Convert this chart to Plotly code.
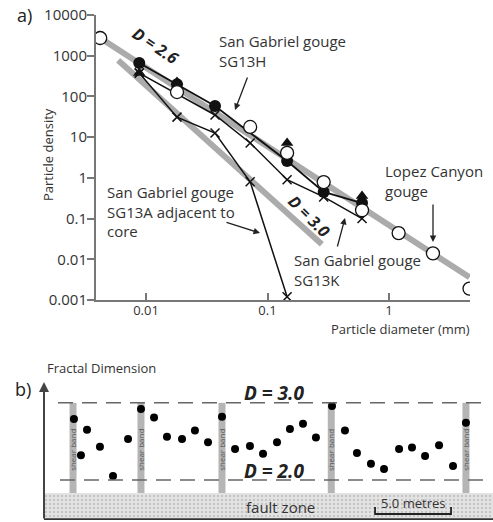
import plotly.graph_objects as go

W, H = 493, 522
FONT = "Open Sans"
TXT = "#333333"

# ---------------- Panel a data ----------------
lopez_x = [0.0042, 0.018, 0.072, 0.145, 0.29, 0.6, 1.2, 2.3, 4.6]
lopez_y = [2720, 128, 17.8, 4.1, 0.79, 0.16, 0.044, 0.014, 0.0019]
sg13h_x = [0.0088, 0.018, 0.037, 0.145, 0.29, 0.6]
sg13h_y = [660, 200, 58, 2.6, 0.45, 0.24]
tri_x = [0.0088, 0.018, 0.145, 0.6]
tri_y = [375, 225, 7.2, 0.36]
sg13k_x = [0.0088, 0.037, 0.072, 0.145, 0.29, 0.6]
sg13k_y = [375, 35, 7.2, 0.9, 0.34, 0.10]
sg13a_x = [0.0088, 0.018, 0.037, 0.072, 0.145]
sg13a_y = [375, 31, 12.6, 0.8, 0.0012]
d26_x = [0.0042, 4.6]
d26_y = [2720, 0.0036]
d30_x = [0.0059, 0.28]
d30_y = [775, 0.0234]
y_ticks = [0.001, 0.01, 0.1, 1, 10, 100, 1000, 10000]
y_ticktext = ["0.001", "0.01", "0.1", "1", "10", "100", "1000", "10000"]
x_ticks = [0.01, 0.1, 1]
x_ticktext = ["0.01", "0.1", "1"]

# ---------------- Panel b data ----------------
dot_pos_m = [1.97, 2.43, 2.83, 3.68, 4.54, 5.53, 6.38, 7.24, 8.09, 9.08, 9.93,
             10.79, 11.71, 12.57, 13.55, 14.41, 15.33, 16.18, 17.04, 17.89,
             18.95, 19.80, 20.59, 21.51, 22.37, 23.36, 24.21, 25.07, 25.99,
             26.91, 27.76]
dot_D = [2.79, 2.32, 2.65, 2.43, 2.05, 2.53, 2.92, 2.81, 2.56, 2.53, 2.64,
         2.49, 2.82, 2.40, 2.44, 2.34, 2.49, 2.66, 2.73, 2.55,
         2.96, 2.64, 2.35, 2.21, 2.14, 2.40, 2.42, 2.31, 2.45,
         2.18, 2.74]
shear_band_m = [1.91, 6.38, 11.71, 18.9, 27.76]
D_levels = [3.0, 2.0]
fault_len_m = 29.54
scale_bar_m = [21.78, 26.78]


def px(x):
    return x / W


def py(y):
    return 1 - y / H


fig = go.Figure()

# reference gray lines
fig.add_trace(go.Scatter(x=d26_x, y=d26_y, mode="lines",
                         line=dict(color="#ababab", width=6), xaxis="x", yaxis="y"))
fig.add_trace(go.Scatter(x=d30_x, y=d30_y, mode="lines",
                         line=dict(color="#ababab", width=6), xaxis="x", yaxis="y"))
# black series lines
blk = "#111111"
fig.add_trace(go.Scatter(x=sg13a_x, y=sg13a_y, mode="lines+markers",
                         line=dict(color=blk, width=1.5),
                         marker=dict(symbol="x-thin", size=9, line=dict(color=blk, width=1.5))))
fig.add_trace(go.Scatter(x=sg13k_x, y=sg13k_y, mode="lines+markers",
                         line=dict(color=blk, width=1.5),
                         marker=dict(symbol="x-thin", size=9, line=dict(color=blk, width=1.5))))
fig.add_trace(go.Scatter(x=sg13h_x, y=sg13h_y, mode="lines+markers",
                         line=dict(color=blk, width=1.8),
                         marker=dict(symbol="circle", size=12, color=blk)))
fig.add_trace(go.Scatter(x=tri_x, y=tri_y, mode="markers",
                         marker=dict(symbol="triangle-up", size=11, color=blk)))
fig.add_trace(go.Scatter(x=lopez_x, y=lopez_y, mode="markers",
                         marker=dict(symbol="circle", size=13, color="white",
                                     line=dict(color=blk, width=1.3))))

# ---------------- Panel b traces ----------------
fig.add_trace(go.Scatter(
    x=[0, fault_len_m, fault_len_m, 0, 0], y=[1.48, 1.48, 1.83, 1.83, 1.48],
    mode="lines", fill="toself", line=dict(width=0),
    fillcolor="#e0e0e0",
    fillpattern=dict(shape=".", fgcolor="#8c8c8c", bgcolor="#e2e2e2", size=4, solidity=0.18),
    xaxis="x2", yaxis="y2"))
fig.add_trace(go.Scatter(x=dot_pos_m, y=dot_D, mode="markers",
                         marker=dict(symbol="circle", size=8, color="#000"),
                         xaxis="x2", yaxis="y2"))

shapes = []
for s in shear_band_m:
    shapes.append(dict(type="rect", xref="x2", yref="y2", x0=s - 0.23, x1=s + 0.23,
                       y0=1.83, y1=3.0, fillcolor="#b5b5b5", line=dict(width=0), layer="below"))
shapes.append(dict(type="line", xref="x2", yref="y2", x0=0.92, x1=29.3, y0=D_levels[0], y1=D_levels[0],
                   line=dict(color="#666", width=1.5, dash="15px,9px")))
shapes.append(dict(type="line", xref="x2", yref="y2", x0=1.05, x1=29.3, y0=D_levels[1], y1=D_levels[1],
                   line=dict(color="#666", width=1.5, dash="15px,9px")))
shapes.append(dict(type="line", xref="x2", yref="y2", x0=0, x1=fault_len_m, y0=1.49, y1=1.49,
                   line=dict(color="#333", width=2)))
# scale bar bracket
shapes.append(dict(type="path", xref="x2", yref="y2",
                   path=f"M{scale_bar_m[0]},1.649 L{scale_bar_m[0]},1.558 L{scale_bar_m[1]},1.558 L{scale_bar_m[1]},1.649",
                   line=dict(color="#222", width=1.8)))

ann = []
f = lambda s, c=TXT: dict(family=FONT, size=s, color=c)


def note(x, y, text, size=14, color=TXT, xanchor="center", **kw):
    ann.append(dict(x=px(x), y=py(y), xref="paper", yref="paper", text=text, showarrow=False,
                    xanchor=xanchor, yanchor="middle", align=xanchor if xanchor != "center" else "center",
                    font=f(size, color), **kw))


note(24, 15, "a)", 18, "#222")
note(156, 46, "<b><i>D = 2.6</i></b>", 16, "#222", textangle=34)
note(309, 216, "<b><i>D = 3.0</i></b>", 16, "#222", textangle=45)
note(217, 50.5, "San Gabriel gouge<br>SG13H", 15, xanchor="left")
note(105, 211, "San Gabriel gouge<br>SG13A adjacent to<br>core", 15, xanchor="left")
note(292, 269.5, "San Gabriel gouge<br>SG13K", 15, xanchor="left")
note(383, 181.5, "Lopez Canyon<br>gouge", 15, xanchor="left")
note(48, 155, "Particle density", 13, textangle=-90)
note(400, 329, "Particle diameter (mm)", 13)
for hx, hy, ax, ay in [(235, 110, 13, -34), (260, 233, -35, -11), (345, 218, -8, 30), (433, 242, 0, -39)]:
    ann.append(dict(x=px(hx), y=py(hy), xref="paper", yref="paper", ax=ax, ay=ay, text="",
                    showarrow=True, arrowhead=2, arrowsize=1, arrowwidth=1.3, arrowcolor="#222"))

# panel b text
note(45, 368, "Fractal Dimension", 13, xanchor="left")
note(23, 389, "b)", 18, "#222")


def dnote(x, y, text, size, color=TXT, **kw):
    ann.append(dict(x=x, y=y, xref="x2", yref="y2", text=text, showarrow=False,
                    xanchor="center", yanchor="middle", font=f(size, color), **kw))


dnote(15.13, 3.13, "<b><i>D = 3.0</i></b>", 19, "#222")
dnote(15.13, 2.12, "<b><i>D = 2.0</i></b>", 19, "#222")
for s in shear_band_m:
    dnote(s, 2.39, "shear band", 8, "#555", textangle=-90)
dnote(15.53, 1.65, "fault zone", 15)
dnote(sum(scale_bar_m) / 2, 1.70, "5.0 metres", 13)
ann.append(dict(x=0, y=3.27, ax=0, ay=1.48, xref="x2", yref="y2", axref="x2", ayref="y2",
                text="", showarrow=True, arrowhead=2, arrowsize=1, arrowwidth=2, arrowcolor="#444"))

axis_col = "#777777"
fig.update_layout(
    width=W, height=H, margin=dict(l=0, r=0, t=0, b=0, autoexpand=False),
    paper_bgcolor="white", plot_bgcolor="white", showlegend=False,
    font=dict(family=FONT, color=TXT),
    xaxis=dict(type="log", domain=[px(96), px(470)], range=[-2.4115, 0.6667],
               tickvals=x_ticks, ticktext=x_ticktext, ticks="inside", ticklen=7,
               tickwidth=1.5, tickcolor=axis_col, showline=True, linecolor=axis_col, linewidth=2,
               showgrid=False, zeroline=False, tickfont=dict(size=13, color=TXT), anchor="y",
               automargin=False, ticklabelstandoff=-3),
    yaxis=dict(type="log", domain=[py(300), py(15)], range=[-3, 4],
               tickvals=y_ticks, ticktext=y_ticktext, ticks="outside", ticklen=7,
               tickwidth=1.5, tickcolor=axis_col, showline=True, linecolor=axis_col, linewidth=2,
               showgrid=False, zeroline=False, tickfont=dict(size=15, color=TXT), anchor="x",
               automargin=False, ticklabelstandoff=-3),
    xaxis2=dict(domain=[px(44), 1], range=[0, fault_len_m], visible=False, anchor="y2",
                automargin=False),
    yaxis2=dict(domain=[py(520), py(382)], range=[1.48, 3.27], visible=False, anchor="x2",
                automargin=False),
    shapes=shapes, annotations=ann,
)

fig.write_html("out.html")
